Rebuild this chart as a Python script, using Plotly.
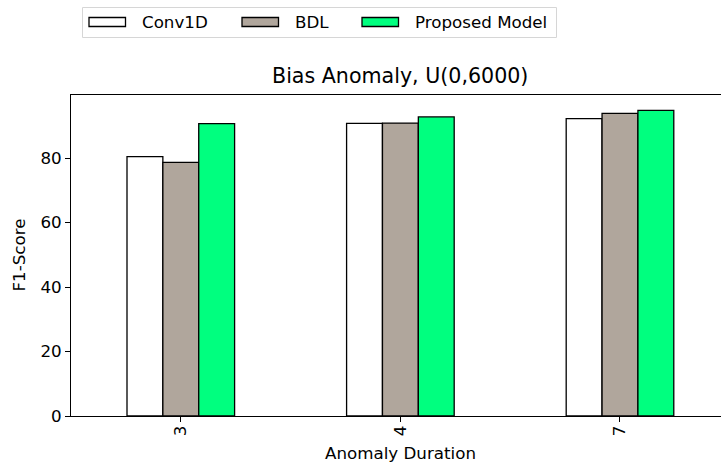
import plotly.graph_objects as go

# F1-score per anomaly duration for each model
durations = ["3", "4", "7"]
conv1d = [80.5, 90.8, 92.3]
bdl = [78.7, 90.9, 93.9]
proposed = [90.7, 92.8, 94.8]

series_names = ["Conv1D", "BDL", "Proposed Model"]
series_values = [conv1d, bdl, proposed]
series_colors = ["#ffffff", "#b0a69c", "#00ff7f"]

W, H = 721, 466
ML, MR, MT, MB = 71, 0, 95, 50
PW, PH = W - ML - MR, H - MT - MB

FONT = "DejaVu Sans"
BASE = 16.7


def px_x(px):
    return (px - ML) / PW


def px_y(py):
    return (H - MB - py) / PH


fig = go.Figure()
for name, vals, col in zip(series_names, series_values, series_colors):
    fig.add_trace(go.Bar(
        x=durations, y=vals, name=name,
        marker=dict(color=col, line=dict(color="black", width=1.3)),
        showlegend=False,
    ))

shapes = []
annotations = []

# legend frame
shapes.append(dict(type="rect", xref="paper", yref="paper",
                   x0=px_x(82.5), x1=px_x(556.5), y0=px_y(37.5), y1=px_y(7.5),
                   line=dict(color="#d6d6d6", width=1), fillcolor="white"))
legend_items = [(89, 140), (242, 293), (362, 413)]
for (sx, tx), name, col in zip(legend_items, series_names, series_colors):
    shapes.append(dict(type="rect", xref="paper", yref="paper",
                       x0=px_x(sx), x1=px_x(sx + 36.5), y0=px_y(26.5), y1=px_y(17.5),
                       line=dict(color="black", width=1.3), fillcolor=col))
    annotations.append(dict(text=name, xref="paper", yref="paper",
                            x=px_x(tx), y=px_y(22), xanchor="left", yanchor="middle",
                            showarrow=False, font=dict(family=FONT, size=BASE, color="black")))

# title and axis titles
annotations.append(dict(text="Bias Anomaly, U(0,6000)", xref="paper", yref="paper",
                        x=px_x(399.5), y=px_y(76), xanchor="center", yanchor="middle",
                        showarrow=False, font=dict(family=FONT, size=20.6, color="black")))
annotations.append(dict(text="F1-Score", xref="paper", yref="paper",
                        x=px_x(18.5), y=px_y(255), xanchor="center", yanchor="middle",
                        textangle=-90, showarrow=False,
                        font=dict(family=FONT, size=BASE, color="black")))
annotations.append(dict(text="Anomaly Duration", xref="paper", yref="paper",
                        x=px_x(400), y=px_y(453), xanchor="center", yanchor="middle",
                        showarrow=False, font=dict(family=FONT, size=BASE, color="black")))

fig.update_layout(
    width=W, height=H,
    margin=dict(l=ML, r=MR, t=MT, b=MB, pad=0),
    paper_bgcolor="white", plot_bgcolor="white",
    barmode="group", bargap=0.51, bargroupgap=0,
    font=dict(family=FONT, size=BASE, color="black"),
    shapes=shapes, annotations=annotations,
    xaxis=dict(range=[-0.5, 2.46], showgrid=False, zeroline=False,
               showline=True, linecolor="black", linewidth=1.1, mirror=True,
               ticks="outside", ticklen=5, tickwidth=1.1, tickcolor="black",
               tickangle=-90, ticklabelstandoff=-3,
               tickfont=dict(family=FONT, size=BASE)),
    yaxis=dict(range=[0, 99.6], showgrid=False, zeroline=False,
               showline=True, linecolor="black", linewidth=1.1,
               ticks="outside", ticklen=5, tickwidth=1.1, tickcolor="black",
               tickvals=[0, 20, 40, 60, 80], tickfont=dict(family=FONT, size=BASE)),
)

fig.write_html("out.html")
